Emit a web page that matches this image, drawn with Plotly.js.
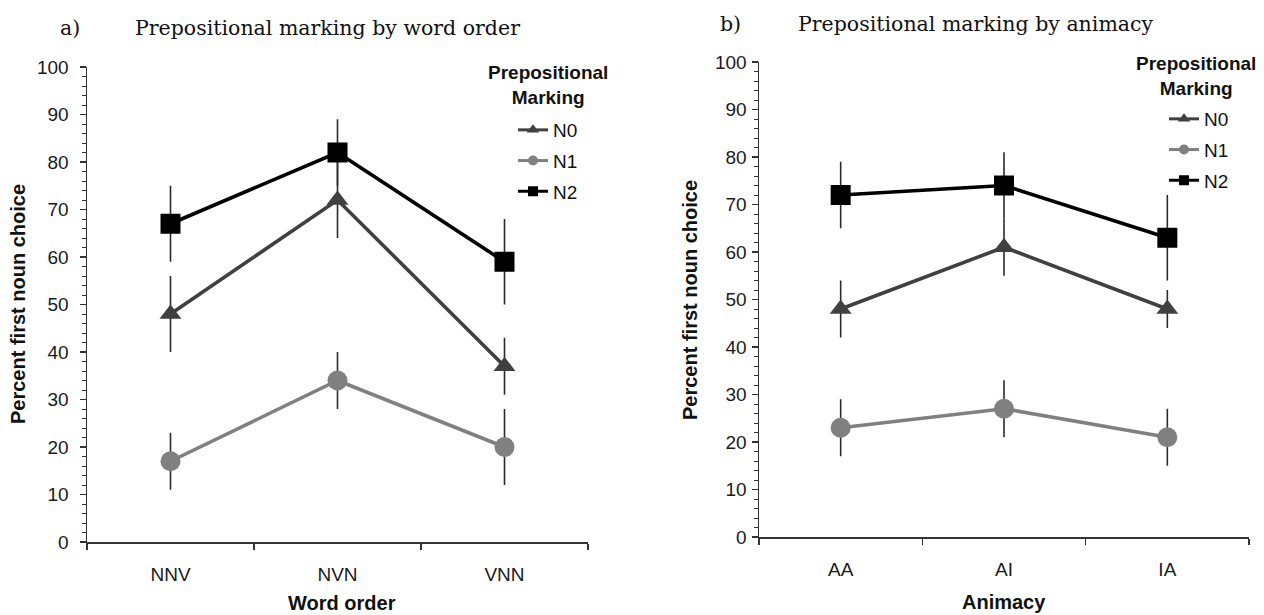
<!DOCTYPE html>
<html>
<head>
<meta charset="utf-8">
<script src="https://cdn.plot.ly/plotly-3.0.1.min.js"></script>
<style>
  html, body { margin: 0; padding: 0; background: #fff; }
  #chart { width: 1264px; height: 615px; }
</style>
</head>
<body>
<div id="chart"></div>
<script>
// Categories
const wordOrder = ['NNV', 'NVN', 'VNN'];
const animacy = ['AA', 'AI', 'IA'];
const markingLevels = ['N0', 'N1', 'N2'];

// Panel a) percent first noun choice by word order
const orderN0 = [48, 72, 37];
const orderN1 = [17, 34, 20];
const orderN2 = [67, 82, 59];
const orderErrN0 = [8, 8, 6];
const orderErrN1 = [6, 6, 8];
const orderErrN2 = [8, 7, 9];

// Panel b) percent first noun choice by animacy
const animN0 = [48, 61, 48];
const animN1 = [23, 27, 21];
const animN2 = [72, 74, 63];
const animErrN0 = [6, 6, 4];
const animErrN1 = [6, 6, 6];
const animErrN2 = [7, 7, 9];

const styles = {
  N0: { color: '#404040', symbol: 'triangle-up', size: 19, legendSize: 11 },
  N1: { color: '#808080', symbol: 'circle', size: 20, legendSize: 10 },
  N2: { color: '#000000', symbol: 'square', size: 20, legendSize: 10 }
};

function seriesTrace(name, x, y, err, xa, ya) {
  const s = styles[name];
  return {
    type: 'scatter', mode: 'lines+markers', name: name,
    x: x, y: y, xaxis: xa, yaxis: ya, showlegend: false,
    line: { color: s.color, width: 3.6 },
    marker: { color: s.color, symbol: s.symbol, size: s.size, line: { width: 0 } },
    error_y: { type: 'data', array: err, visible: true, color: '#2b2b2b', thickness: 1.6, width: 0 }
  };
}

// Legend entries: a single unplotted point per level, so the key can use small symbols
function legendTrace(name, cats, xa, ya, legendId) {
  const s = styles[name];
  return {
    type: 'scatter', mode: 'lines+markers', name: name,
    x: [cats[0]], y: [null], xaxis: xa, yaxis: ya,
    legend: legendId, legendgroup: legendId + name,
    line: { color: s.color, width: 3 },
    marker: { color: s.color, symbol: s.symbol, size: s.legendSize }
  };
}

const orderY = { N0: orderN0, N1: orderN1, N2: orderN2 };
const orderErr = { N0: orderErrN0, N1: orderErrN1, N2: orderErrN2 };
const animY = { N0: animN0, N1: animN1, N2: animN2 };
const animErr = { N0: animErrN0, N1: animErrN1, N2: animErrN2 };

const data = [];
markingLevels.forEach(m => data.push(seriesTrace(m, wordOrder, orderY[m], orderErr[m], 'x', 'y')));
markingLevels.forEach(m => data.push(seriesTrace(m, animacy, animY[m], animErr[m], 'x2', 'y2')));
markingLevels.forEach(m => data.push(legendTrace(m, wordOrder, 'x', 'y', 'legend')));
markingLevels.forEach(m => data.push(legendTrace(m, animacy, 'x2', 'y2', 'legend2')));

const sans = 'Liberation Sans, Arial, sans-serif';
const tickFont = { family: sans, size: 19, color: '#1a1a1a' };
const axisLine = { showline: true, linecolor: '#333', linewidth: 1.5, zeroline: false, showgrid: false };

function xAxis(domain, anchor) {
  return Object.assign({}, axisLine, {
    domain: domain, anchor: anchor, type: 'category', range: [-0.5, 2.5],
    ticks: 'outside', ticklen: 6, tickwidth: 1.3, tickcolor: '#333', tickson: 'boundaries',
    ticklabelstandoff: 15, tickfont: tickFont, automargin: false, fixedrange: true
  });
}
function yAxis(domain, anchor, standoff) {
  return Object.assign({}, axisLine, {
    domain: domain, anchor: anchor, range: [0, 100], dtick: 10,
    ticks: 'outside', ticklen: 6, tickwidth: 1.3, tickcolor: '#333',
    minor: { dtick: 2, ticks: 'outside', ticklen: 4, tickwidth: 1, tickcolor: '#333' },
    ticklabelstandoff: standoff, tickfont: tickFont, automargin: false, fixedrange: true
  });
}

const titleFont = { family: 'DejaVu Serif, serif', size: 20.5, color: '#111' };
const axisTitleFont = { family: sans, size: 20, color: '#111', weight: 'bold' };
const legendTitleFont = { family: sans, size: 19, color: '#111', weight: 'bold' };
const legendFont = { family: sans, size: 19, color: '#111' };

function ann(text, x, y, font, extra) {
  return Object.assign({ text: text, x: x, y: y, xref: 'paper', yref: 'paper', showarrow: false, font: font }, extra || {});
}

const W = 1264, H = 615;
const px = v => v / W;
const py = v => 1 - v / H;

const layout = {
  width: W, height: H,
  margin: { l: 0, r: 0, t: 0, b: 0 },
  paper_bgcolor: '#fff', plot_bgcolor: '#fff',
  xaxis: xAxis([px(87), px(588)], 'y'),
  yaxis: yAxis([py(542), py(67)], 'x', 7),
  xaxis2: xAxis([px(759), px(1249)], 'y2'),
  yaxis2: yAxis([py(537), py(62)], 'x2', 1),
  legend: {
    x: px(513), y: py(111), xanchor: 'left', yanchor: 'top', font: legendFont,
    bgcolor: 'rgba(0,0,0,0)', traceorder: 'grouped', tracegroupgap: 3
  },
  legend2: {
    x: px(1164), y: py(100), xanchor: 'left', yanchor: 'top', font: legendFont,
    bgcolor: 'rgba(0,0,0,0)', traceorder: 'grouped', tracegroupgap: 3
  },
  annotations: [
    ann('a)', px(70), py(28), titleFont, { xanchor: 'center', yanchor: 'middle' }),
    ann('Prepositional marking by word order', px(133), py(28), titleFont, { xanchor: 'left', yanchor: 'middle' }),
    ann('b)', px(730), py(24), titleFont, { xanchor: 'center', yanchor: 'middle' }),
    ann('Prepositional marking by animacy', px(796), py(24), titleFont, { xanchor: 'left', yanchor: 'middle' }),
    ann('Percent first noun choice', px(18), py(304), axisTitleFont, { textangle: -90, xanchor: 'center', yanchor: 'middle' }),
    ann('Percent first noun choice', px(690), py(300), axisTitleFont, { textangle: -90, xanchor: 'center', yanchor: 'middle' }),
    ann('Word order', px(342), py(603), axisTitleFont, { xanchor: 'center', yanchor: 'middle' }),
    ann('Animacy', px(1004), py(602), axisTitleFont, { xanchor: 'center', yanchor: 'middle' }),
    ann('Prepositional<br>Marking', px(548), py(85), legendTitleFont, { xanchor: 'center', yanchor: 'middle', align: 'center' }),
    ann('Prepositional<br>Marking', px(1196), py(76), legendTitleFont, { xanchor: 'center', yanchor: 'middle', align: 'center' })
  ]
};

Plotly.newPlot('chart', data, layout, { staticPlot: true, displayModeBar: false });
</script>
</body>
</html>
